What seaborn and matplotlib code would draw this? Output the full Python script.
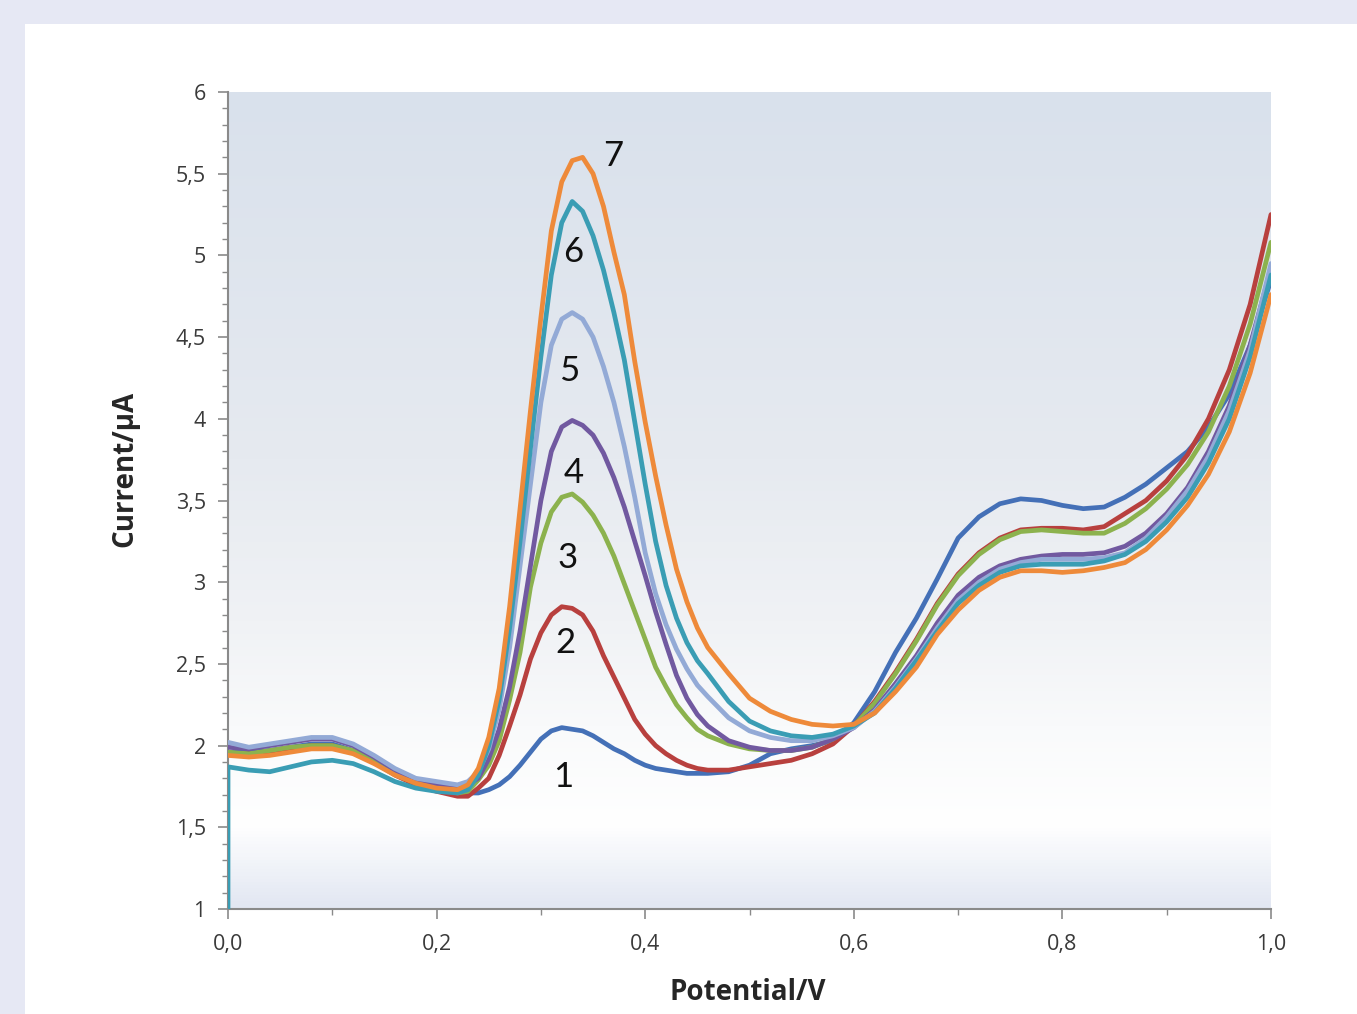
import numpy as np
import pandas as pd
import matplotlib
matplotlib.use("Agg")
import matplotlib.pyplot as plt
import seaborn as sns
from matplotlib.colors import LinearSegmentedColormap
from matplotlib.ticker import MultipleLocator, FuncFormatter

# ---------------- data ----------------
potential = [0.00, 0.02, 0.04, 0.06, 0.08, 0.10, 0.12, 0.14, 0.16, 0.18, 0.20, 0.22,
             0.23, 0.24, 0.25, 0.26, 0.27, 0.28, 0.29, 0.30, 0.31, 0.32, 0.33, 0.34,
             0.35, 0.36, 0.37, 0.38, 0.39, 0.40, 0.41, 0.42, 0.43, 0.44, 0.45, 0.46,
             0.48, 0.50, 0.52, 0.54, 0.56, 0.58, 0.60, 0.62, 0.64, 0.66, 0.68, 0.70,
             0.72, 0.74, 0.76, 0.78, 0.80, 0.82, 0.84, 0.86, 0.88, 0.90, 0.92, 0.94,
             0.96, 0.98, 1.00]

curve1 = [1.96, 1.96, 1.97, 1.99, 2.01, 2.01, 1.97, 1.91, 1.83, 1.77, 1.74, 1.72,
          1.71, 1.71, 1.73, 1.76, 1.81, 1.88, 1.96, 2.04, 2.09, 2.11, 2.10, 2.09,
          2.06, 2.02, 1.98, 1.95, 1.91, 1.88, 1.86, 1.85, 1.84, 1.83, 1.83, 1.83,
          1.84, 1.88, 1.95, 1.98, 2.00, 2.03, 2.14, 2.33, 2.57, 2.78, 3.02, 3.27,
          3.40, 3.48, 3.51, 3.50, 3.47, 3.45, 3.46, 3.52, 3.60, 3.70, 3.80, 3.95,
          4.15, 4.45, 4.85]

curve2 = [1.95, 1.95, 1.96, 1.98, 2.00, 2.00, 1.96, 1.90, 1.82, 1.76, 1.72, 1.69,
          1.69, 1.74, 1.80, 1.94, 2.12, 2.31, 2.53, 2.69, 2.80, 2.85, 2.84, 2.80,
          2.70, 2.55, 2.42, 2.29, 2.16, 2.07, 2.00, 1.95, 1.91, 1.88, 1.86, 1.85,
          1.85, 1.87, 1.89, 1.91, 1.95, 2.01, 2.12, 2.27, 2.45, 2.65, 2.87, 3.05,
          3.18, 3.27, 3.32, 3.33, 3.33, 3.32, 3.34, 3.42, 3.50, 3.62, 3.78, 4.00,
          4.30, 4.70, 5.25]

curve3 = [1.96, 1.95, 1.97, 1.99, 2.00, 2.00, 1.97, 1.91, 1.83, 1.77, 1.74, 1.71,
          1.72, 1.79, 1.88, 2.03, 2.28, 2.57, 2.97, 3.24, 3.43, 3.52, 3.54, 3.49,
          3.41, 3.30, 3.16, 2.99, 2.82, 2.65, 2.48, 2.36, 2.25, 2.17, 2.10, 2.06,
          2.01, 1.98, 1.97, 1.97, 1.99, 2.04, 2.12, 2.26, 2.44, 2.64, 2.86, 3.04,
          3.17, 3.26, 3.31, 3.32, 3.31, 3.30, 3.30, 3.36, 3.45, 3.57, 3.72, 3.92,
          4.20, 4.58, 5.08]

curve4 = [1.99, 1.98, 2.00, 2.02, 2.04, 2.04, 2.00, 1.93, 1.85, 1.79, 1.76, 1.74,
          1.76, 1.80, 1.92, 2.10, 2.36, 2.70, 3.10, 3.50, 3.80, 3.95, 3.99, 3.96,
          3.90, 3.79, 3.64, 3.46, 3.25, 3.04, 2.82, 2.62, 2.43, 2.29, 2.19, 2.12,
          2.03, 1.99, 1.97, 1.97, 1.99, 2.04, 2.11, 2.22, 2.38, 2.55, 2.75, 2.92,
          3.03, 3.10, 3.14, 3.16, 3.17, 3.17, 3.18, 3.22, 3.30, 3.42, 3.58, 3.80,
          4.08, 4.45, 4.92]

curve5 = [2.02, 1.99, 2.01, 2.03, 2.05, 2.05, 2.01, 1.94, 1.86, 1.80, 1.78, 1.76,
          1.78, 1.84, 1.98, 2.22, 2.60, 3.10, 3.60, 4.10, 4.45, 4.61, 4.65, 4.61,
          4.50, 4.32, 4.10, 3.83, 3.52, 3.18, 2.93, 2.74, 2.59, 2.47, 2.37, 2.30,
          2.17, 2.09, 2.05, 2.03, 2.03, 2.06, 2.11, 2.21, 2.36, 2.53, 2.72, 2.89,
          3.00, 3.08, 3.12, 3.14, 3.14, 3.14, 3.15, 3.18, 3.27, 3.40, 3.56, 3.77,
          4.05, 4.42, 4.95]

curve6_start = [1.00]
curve6 = [1.87, 1.85, 1.84, 1.87, 1.90, 1.91, 1.89, 1.84, 1.78, 1.74, 1.72, 1.71,
          1.73, 1.82, 2.00, 2.28, 2.72, 3.25, 3.82, 4.38, 4.88, 5.20, 5.33, 5.27,
          5.12, 4.91, 4.65, 4.36, 3.98, 3.60, 3.25, 2.98, 2.78, 2.63, 2.52, 2.44,
          2.27, 2.15, 2.09, 2.06, 2.05, 2.07, 2.12, 2.20, 2.35, 2.52, 2.70, 2.87,
          2.98, 3.06, 3.10, 3.11, 3.11, 3.11, 3.13, 3.17, 3.25, 3.37, 3.52, 3.73,
          4.00, 4.38, 4.88]

curve7 = [1.94, 1.93, 1.94, 1.96, 1.98, 1.98, 1.95, 1.89, 1.82, 1.77, 1.74, 1.73,
          1.76, 1.86, 2.05, 2.35, 2.85, 3.45, 4.05, 4.62, 5.15, 5.45, 5.58, 5.60,
          5.50, 5.30, 5.02, 4.76, 4.35, 3.98, 3.65, 3.35, 3.08, 2.88, 2.72, 2.60,
          2.44, 2.29, 2.21, 2.16, 2.13, 2.12, 2.13, 2.20, 2.33, 2.48, 2.68, 2.83,
          2.95, 3.03, 3.07, 3.07, 3.06, 3.07, 3.09, 3.12, 3.20, 3.32, 3.47, 3.66,
          3.92, 4.28, 4.76]

series_names = ["1", "2", "3", "4", "5", "6", "7"]
series_colors = ["#4470B7", "#B8403E", "#8CB24E", "#7159A0", "#93AAD6", "#3A9DB4", "#EE8A3A"]

label_x = [0.321, 0.324, 0.326, 0.331, 0.327, 0.331, 0.369]
label_y = [1.81, 2.63, 3.15, 3.67, 4.29, 5.02, 5.61]

x_ticks = [0.0, 0.2, 0.4, 0.6, 0.8, 1.0]
y_ticks = [1, 1.5, 2, 2.5, 3, 3.5, 4, 4.5, 5, 5.5, 6]

# ---------------- build long table ----------------
rows = []
curves = [curve1, curve2, curve3, curve4, curve5, curve6, curve7]
for name, vals in zip(series_names, curves):
    xs = list(potential)
    ys = list(vals)
    if name == "6":
        xs = [potential[0]] + xs
        ys = curve6_start + ys
    for xv, yv in zip(xs, ys):
        rows.append({"Potential": xv, "Current": yv, "series": name})
df = pd.DataFrame(rows)

# ---------------- figure ----------------
sns.set_theme(style="white")
plt.rcParams["font.family"] = ["Open Sans", "DejaVu Sans"]

W, H = 1357, 1014
fig = plt.figure(figsize=(W / 100, H / 100), dpi=100)
fig.patch.set_facecolor("#E6E8F4")

# white panel as a background axes
bg = fig.add_axes([25 / W, 0, 1 - 25 / W, 1 - 24 / H], zorder=-10)
bg.set_facecolor("white")
bg.set_xticks([])
bg.set_yticks([])
for s in bg.spines.values():
    s.set_visible(False)

ax = fig.add_axes([228 / W, 105 / H, (1271 - 228) / W, (909 - 92) / H], zorder=1)
ax.set_facecolor("none")

# gradient plot-area background
grad_cmap = LinearSegmentedColormap.from_list(
    "bg",
    [(0.0, "#E2E7F2"), (0.10, "#FFFFFF"), (0.22, "#F9FAFB"), (0.35, "#F0F2F5"),
     (0.55, "#E6EAF0"), (1.0, "#D9E1EC")])
grad = np.linspace(0, 1, 256).reshape(-1, 1)
ax.imshow(grad, cmap=grad_cmap, aspect="auto", extent=[0, 1, 1, 6], origin="lower",
          zorder=0, interpolation="bicubic")

sns.lineplot(data=df, x="Potential", y="Current", hue="series", hue_order=series_names,
             palette=series_colors, estimator=None, sort=False, units="series",
             legend=False, linewidth=3.4, ax=ax, zorder=3,
             solid_joinstyle="round", solid_capstyle="round")

for name, lx, ly in zip(series_names, label_x, label_y):
    ax.text(lx, ly, name, ha="center", va="center", fontsize=25, color="#111111",
            family=["Lato", "DejaVu Sans"], zorder=5)

ax.set_xlim(0, 1)
ax.set_ylim(1, 6)
ax.set_xticks(x_ticks)
ax.set_yticks(y_ticks)
ax.xaxis.set_minor_locator(MultipleLocator(0.1))
ax.yaxis.set_minor_locator(MultipleLocator(0.1))
ax.xaxis.set_major_formatter(FuncFormatter(lambda v, p: f"{v:.1f}".replace(".", ",")))
ax.yaxis.set_major_formatter(FuncFormatter(lambda v, p: (f"{v:g}").replace(".", ",")))

for side in ["top", "right"]:
    ax.spines[side].set_visible(False)
for side in ["left", "bottom"]:
    ax.spines[side].set_color("#8A8A8A")
    ax.spines[side].set_linewidth(1.5)
    ax.spines[side].set_zorder(2)

ax.tick_params(axis="both", which="major", direction="out", length=7, width=1.2,
               color="#8A8A8A", labelsize=15.5, labelcolor="#3A3A3A",
               left=True, bottom=True)
ax.tick_params(axis="y", which="major", pad=9)
ax.tick_params(axis="x", which="major", pad=11)
ax.tick_params(axis="both", which="minor", direction="out", length=4, width=1.0,
               color="#8A8A8A", left=True, bottom=True)

ax.set_xlabel("Potential/V", fontsize=20, fontweight="bold", color="#262626")
ax.set_ylabel("Current/µA", fontsize=20, fontweight="bold", color="#262626")
ax.xaxis.set_label_coords((748 - 228) / 1043, (909 - 992) / 817)
ax.yaxis.set_label_coords((125 - 228) / 1043, (909 - 469) / 817)
ax.xaxis.label.set_va("center")
ax.yaxis.label.set_va("center")
ax.yaxis.label.set_ha("center")

fig.savefig("out.png", dpi=100, facecolor=fig.get_facecolor())
